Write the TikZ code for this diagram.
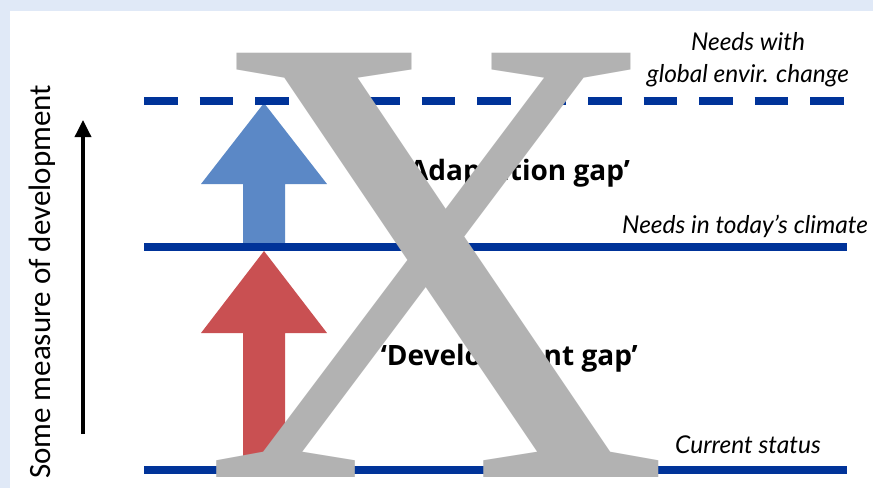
\documentclass[tikz,border=0pt]{standalone}
\usepackage{fontspec}
\setmainfont{Liberation Serif}
\setsansfont{Lato}
\newfontfamily\axisfont{Carlito}
\newfontfamily\gapfont{Open Sans}
\usepackage{tikz}
\usetikzlibrary{
arrows.meta,
calc,
}

\definecolor{bgblue}{RGB}{224,233,247}
\definecolor{lineblue}{RGB}{0,51,153}
\definecolor{arrowblue}{RGB}{91,136,198}
\definecolor{arrowred}{RGB}{201,80,82}
\definecolor{xgrey}{RGB}{178,178,178}

\tikzset{
	level/.style={draw=lineblue, line width=8pt},
	gaplabel/.style={inner sep=0pt, font=\gapfont\bfseries\fontsize{28}{32}\selectfont},
	tag/.style={inner sep=0pt, font=\sffamily\itshape\fontsize{24.5}{32}\selectfont, align=center},
}

\begin{document}
\begin{tikzpicture}[x=1pt, y=-1pt]
			\useasboundingbox (0,0) rectangle (873,488);
			\fill[bgblue] (0,0) rectangle (873,488);
			\fill[white] (10,11) rectangle (873,488);

			\coordinate(A) at (144,100.5);
			\coordinate(B) at (847,100.5);
			\coordinate(C) at (144,247);
			\coordinate(D) at (847,247);
			\coordinate(E) at (144,470);
			\coordinate(F) at (847,470);

			\fill[arrowblue] (243,247) -- (243,184) -- (201,184) -- (264,103) -- (327,184) -- (285,184) -- (285,247) -- cycle;
			\fill[arrowred] (243,470) -- (243,333) -- (201,333) -- (264,251) -- (327,333) -- (285,333) -- (285,470) -- cycle;

			\draw[level, dash pattern=on 33.5pt off 22pt] (A) -- (B);
			\draw[level] (C) -- (D);
			\draw[level] (E) -- (F);

			\coordinate(P) at (83,434);
			\coordinate(Q) at (83,120);
			\draw[line width=3.5pt, -{Triangle[width=16pt, length=17pt]}] (P) -- (Q);
			\node[rotate=90, inner sep=0pt, font=\axisfont\fontsize{31}{36}\selectfont] (axis) at (42,282) {Some measure of development};

			\node[tag] (envir) at (748,60) {Needs with\\global envir. change};
			\node[tag, anchor=base west] (today) at (622,233) {Needs in today’s climate};
			\node[tag, anchor=base west] (status) at (675,453) {Current status};
			\node[gaplabel, anchor=base east] (adapt) at (630,180) {‘Adaptation gap’};
			\node[gaplabel, anchor=base east] (devel) at (638,365) {‘Development gap’};

			\node[text=xgrey, inner sep=0pt, anchor=base, font=\fontsize{648}{648}\selectfont] (bigx) at (436.5,477) {X};
		\end{tikzpicture}
\end{document}
